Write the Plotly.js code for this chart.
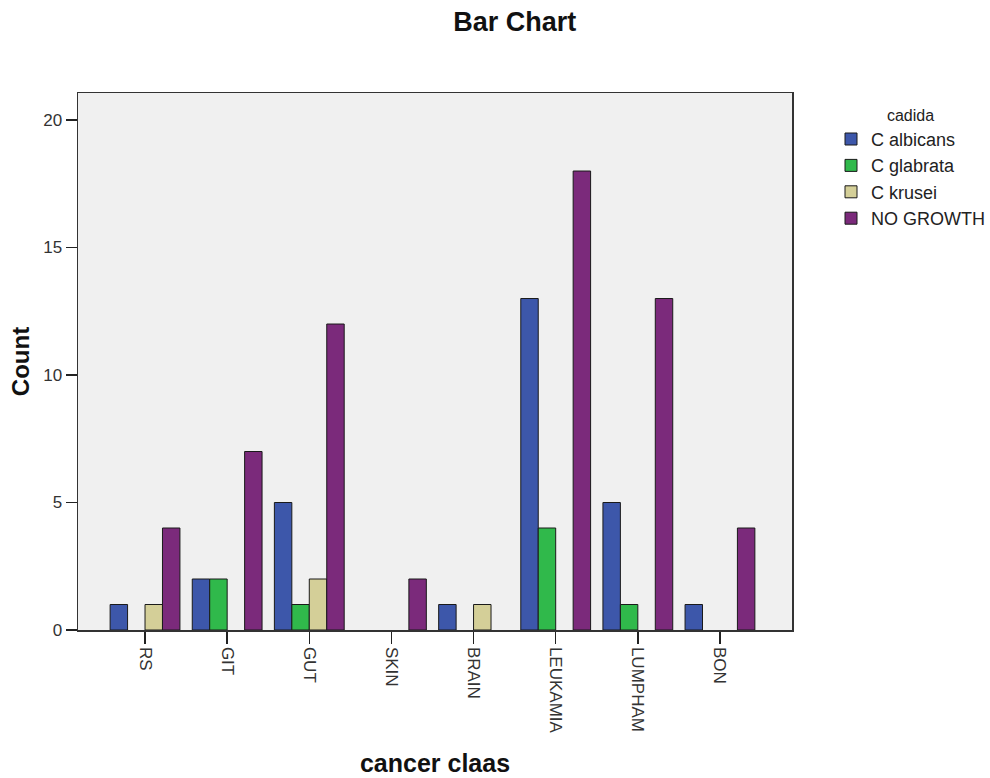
<!DOCTYPE html>
<html>
<head>
<meta charset="utf-8">
<script src="https://cdn.plot.ly/plotly-3.0.1.min.js"></script>
<style>html,body{margin:0;padding:0;background:#fff;}#chart{width:990px;height:778px;}</style>
</head>
<body>
<div id="chart"></div>
<script>
const categories = ["RS", "GIT", "GUT", "SKIN", "BRAIN", "LEUKAMIA", "LUMPHAM", "BON"];
const seriesNames = ["C albicans", "C glabrata", "C krusei", "NO GROWTH"];
const cAlbicans = [1, 2, 5, 0, 1, 13, 5, 1];
const cGlabrata = [0, 2, 1, 0, 0, 4, 1, 0];
const cKrusei = [1, 0, 2, 0, 1, 0, 0, 0];
const noGrowth = [4, 7, 12, 2, 0, 18, 13, 4];
const yTicks = [0, 5, 10, 15, 20];

const colors = ["#3d57aa", "#30b94b", "#d4cf98", "#7b2a7b"];
const values = [cAlbicans, cGlabrata, cKrusei, noGrowth];
const font = "Liberation Sans, Arial, sans-serif";

const traces = values.map((v, i) => ({
  type: "bar",
  name: seriesNames[i],
  x: categories,
  y: v.map(d => (d === 0 ? null : d)),
  marker: { color: colors[i], line: { color: "#1a1a1a", width: 1 } },
  hoverinfo: "x+y+name"
}));

const layout = {
  width: 990, height: 778,
  margin: { l: 78, r: 198, t: 93, b: 148 },
  paper_bgcolor: "#ffffff",
  plot_bgcolor: "#f0f0f0",
  barmode: "group",
  bargap: 0.15,
  bargroupgap: 0,
  font: { family: font, color: "#222" },
  title: { text: "<b>Bar Chart</b>", font: { family: font, size: 27, color: "#111" }, x: 0.52, xanchor: "center", y: 0.972, yanchor: "middle" },
  xaxis: {
    type: "category",
    range: [-0.816, 7.877],
    tickangle: 90,
    ticks: "outside", ticklen: 12, tickwidth: 1.5, tickcolor: "#222",
    tickfont: { family: font, size: 17, color: "#333" },
    showline: true, linecolor: "#333", linewidth: 1.5, mirror: true,
    showgrid: false, zeroline: false,
    title: { text: "<b>cancer claas</b>", font: { family: font, size: 25, color: "#111" }, standoff: 22 },
    automargin: false
  },
  yaxis: {
    range: [0, 21.06],
    tickvals: yTicks,
    ticktext: yTicks.map(String),
    ticks: "outside", ticklen: 11, tickwidth: 1.5, tickcolor: "#222",
    tickfont: { family: font, size: 17, color: "#333" },
    showline: true, linecolor: "#333", linewidth: 1.5, mirror: true,
    showgrid: false, zeroline: false,
    title: { text: "<b>Count</b>", font: { family: font, size: 24, color: "#111" }, standoff: 7 },
    automargin: false
  },
  legend: {
    xref: "container", yref: "container",
    x: 831 / 990, xanchor: "left", y: 1 - 100 / 778, yanchor: "top",
    bgcolor: "rgba(0,0,0,0)",
    font: { family: font, size: 18, color: "#222" },
    title: { text: "cadida", side: "top center", font: { family: font, size: 16, color: "#222" } },
    itemwidth: 30,
    tracegroupgap: 0
  },
  showlegend: true
};

Plotly.newPlot("chart", traces, layout, { displayModeBar: false, staticPlot: true });
</script>
</body>
</html>
